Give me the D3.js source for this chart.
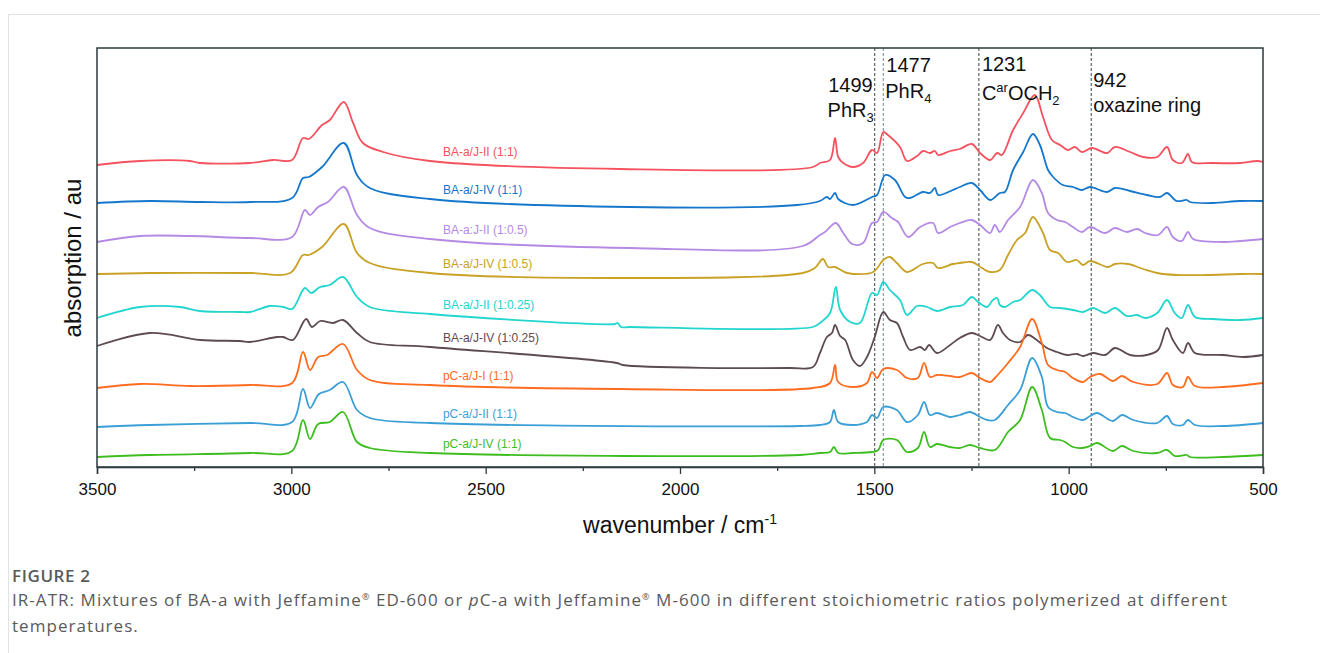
<!DOCTYPE html>
<html>
<head>
<meta charset="utf-8">
<script src="https://cdn.jsdelivr.net/npm/d3@7"></script>
<style>
  body { margin: 0; background: #fff; }
  svg { display: block; }
  .caption { font-family: "Open Sans", "Noto Sans", sans-serif; fill: #5a5a5a; }
</style>
</head>
<body>
<div id="chart"></div>
<script>
// spectra: [wavenumber cm-1, absorption au]
var redBA11 = [[3500,3.02],[3389,3.06],[3261,3.06],[3235,3.04],[3106,3.04],[3047,3.07],[2998,3.07],[2970,3.29],[2955,3.28],[2921,3.42],[2901,3.47],[2865,3.65],[2841,3.44],[2816,3.24],[2764,3.15],[2643,3.06],[2154,2.98],[1658,3.00],[1640,3.04],[1614,3.07],[1601,3.29],[1593,3.10],[1580,3.04],[1555,3.00],[1529,3.04],[1506,3.17],[1493,3.14],[1477,3.35],[1465,3.32],[1434,3.20],[1416,3.06],[1390,3.11],[1375,3.16],[1357,3.14],[1344,3.16],[1336,3.12],[1305,3.16],[1280,3.18],[1249,3.23],[1228,3.14],[1202,3.07],[1184,3.14],[1172,3.12],[1143,3.37],[1117,3.54],[1087,3.72],[1066,3.50],[1043,3.27],[1022,3.22],[1002,3.17],[984,3.20],[966,3.15],[940,3.19],[901,3.14],[881,3.20],[842,3.15],[808,3.10],[772,3.10],[747,3.20],[732,3.07],[709,3.04],[693,3.13],[683,3.05],[629,3.04],[559,3.04],[515,3.06],[500,3.05]];
var blueBA11 = [[3500,2.64],[3364,2.66],[3235,2.65],[3106,2.65],[2998,2.69],[2970,2.89],[2955,2.90],[2921,3.00],[2865,3.24],[2831,2.92],[2798,2.79],[2643,2.68],[2129,2.60],[1699,2.62],[1640,2.66],[1622,2.70],[1614,2.68],[1601,2.74],[1593,2.68],[1555,2.62],[1506,2.70],[1493,2.72],[1472,2.92],[1447,2.87],[1421,2.70],[1408,2.69],[1375,2.75],[1357,2.74],[1344,2.79],[1336,2.72],[1298,2.77],[1280,2.80],[1249,2.84],[1228,2.77],[1202,2.67],[1177,2.74],[1164,2.75],[1143,2.97],[1117,3.15],[1092,3.33],[1074,3.22],[1053,2.97],[1040,2.90],[1015,2.82],[989,2.80],[966,2.77],[945,2.80],[901,2.75],[881,2.79],[842,2.76],[799,2.72],[765,2.70],[747,2.74],[722,2.66],[696,2.67],[688,2.65],[629,2.64],[559,2.66],[500,2.66]];
var purpleBA105 = [[3500,2.25],[3389,2.31],[3261,2.31],[3106,2.29],[2998,2.30],[2965,2.57],[2952,2.52],[2931,2.60],[2906,2.65],[2865,2.80],[2831,2.52],[2798,2.39],[2643,2.28],[2129,2.19],[1684,2.21],[1640,2.32],[1627,2.35],[1599,2.44],[1580,2.34],[1557,2.23],[1529,2.24],[1506,2.44],[1493,2.45],[1477,2.55],[1455,2.49],[1439,2.45],[1413,2.30],[1382,2.40],[1349,2.44],[1336,2.34],[1305,2.40],[1280,2.44],[1249,2.47],[1228,2.42],[1202,2.34],[1190,2.42],[1177,2.35],[1156,2.47],[1125,2.60],[1092,2.87],[1069,2.74],[1053,2.54],[1030,2.47],[1009,2.45],[989,2.40],[966,2.35],[945,2.40],[906,2.34],[881,2.39],[850,2.35],[824,2.38],[803,2.34],[770,2.32],[747,2.40],[732,2.30],[709,2.26],[693,2.35],[680,2.28],[603,2.25],[559,2.26],[500,2.28]];
var goldBA105 = [[3500,1.93],[3364,1.94],[3106,1.94],[3003,1.94],[2970,2.12],[2955,2.12],[2921,2.20],[2865,2.43],[2831,2.14],[2798,2.04],[2643,1.94],[2129,1.89],[1684,1.94],[1653,1.99],[1632,2.08],[1619,2.00],[1601,2.00],[1570,1.94],[1503,1.95],[1477,2.07],[1460,2.10],[1442,2.04],[1416,1.95],[1375,2.03],[1349,2.04],[1336,1.99],[1298,2.03],[1280,2.04],[1249,2.05],[1223,1.99],[1202,1.95],[1177,1.97],[1156,2.12],[1133,2.27],[1112,2.34],[1092,2.50],[1066,2.34],[1048,2.17],[1027,2.14],[1004,2.05],[979,2.07],[963,2.02],[945,2.06],[899,2.00],[881,2.03],[847,2.03],[808,1.98],[772,1.94],[722,1.92],[644,1.92],[559,1.93],[500,1.93]];
var cyanBA1025 = [[3500,1.49],[3389,1.60],[3286,1.60],[3235,1.56],[3132,1.55],[3106,1.55],[3055,1.61],[3021,1.60],[2998,1.58],[2965,1.79],[2949,1.74],[2926,1.80],[2901,1.82],[2867,1.90],[2831,1.70],[2798,1.60],[2643,1.53],[2167,1.43],[2160,1.44],[2152,1.40],[2129,1.40],[1658,1.40],[1640,1.44],[1614,1.54],[1599,1.80],[1588,1.57],[1562,1.45],[1537,1.44],[1506,1.74],[1493,1.72],[1477,1.85],[1460,1.77],[1434,1.67],[1416,1.52],[1390,1.61],[1364,1.60],[1339,1.56],[1305,1.60],[1272,1.62],[1249,1.70],[1233,1.65],[1210,1.60],[1195,1.67],[1184,1.69],[1177,1.62],[1164,1.60],[1143,1.65],[1125,1.67],[1094,1.77],[1074,1.72],[1048,1.60],[1022,1.59],[989,1.57],[963,1.55],[937,1.59],[906,1.54],[881,1.59],[850,1.51],[824,1.52],[803,1.49],[772,1.54],[747,1.67],[727,1.54],[709,1.49],[693,1.62],[675,1.50],[629,1.48],[559,1.47],[500,1.49]];
var brownBA1025 = [[3500,1.21],[3364,1.34],[3235,1.27],[3132,1.26],[3106,1.25],[3037,1.30],[3021,1.30],[2996,1.27],[2962,1.48],[2947,1.40],[2926,1.46],[2893,1.44],[2867,1.47],[2831,1.34],[2798,1.25],[2643,1.20],[2162,1.04],[2147,1.02],[1717,0.99],[1658,1.00],[1640,1.14],[1622,1.30],[1609,1.34],[1601,1.42],[1588,1.31],[1575,1.27],[1555,1.07],[1537,1.01],[1519,1.10],[1499,1.30],[1477,1.55],[1460,1.47],[1442,1.44],[1426,1.30],[1408,1.17],[1382,1.20],[1370,1.17],[1359,1.22],[1339,1.14],[1305,1.22],[1280,1.29],[1249,1.34],[1228,1.31],[1202,1.27],[1182,1.42],[1169,1.34],[1151,1.27],[1125,1.25],[1105,1.32],[1082,1.27],[1056,1.19],[1030,1.15],[1004,1.12],[979,1.13],[963,1.11],[937,1.14],[906,1.12],[881,1.19],[842,1.12],[799,1.12],[770,1.17],[747,1.39],[732,1.27],[706,1.14],[693,1.24],[675,1.14],[603,1.12],[551,1.10],[500,1.12]];
var orangePC11 = [[3500,0.79],[3389,0.83],[3261,0.81],[3106,0.82],[2998,0.84],[2970,1.15],[2952,0.97],[2931,1.10],[2908,1.12],[2867,1.23],[2831,0.97],[2798,0.87],[2643,0.82],[2154,0.78],[1658,0.79],[1614,0.84],[1601,1.02],[1593,0.85],[1555,0.80],[1519,0.84],[1506,0.95],[1493,0.89],[1477,0.98],[1442,0.97],[1416,0.89],[1388,0.89],[1372,1.04],[1357,0.90],[1339,0.92],[1305,0.91],[1280,0.90],[1249,0.94],[1228,0.89],[1202,0.85],[1190,0.89],[1156,1.04],[1125,1.20],[1094,1.48],[1069,1.24],[1053,1.02],[1030,0.97],[1009,0.95],[989,0.89],[963,0.85],[945,0.90],[919,0.93],[886,0.86],[863,0.91],[834,0.85],[772,0.83],[747,0.94],[732,0.82],[706,0.80],[693,0.90],[675,0.81],[603,0.80],[500,0.84]];
var lightbluePC11 = [[3500,0.40],[3364,0.42],[3106,0.44],[2998,0.45],[2970,0.78],[2952,0.59],[2929,0.73],[2901,0.77],[2867,0.85],[2831,0.57],[2798,0.49],[2643,0.44],[1691,0.41],[1640,0.42],[1614,0.45],[1604,0.57],[1593,0.45],[1555,0.42],[1519,0.45],[1506,0.52],[1493,0.49],[1477,0.60],[1442,0.57],[1416,0.45],[1388,0.52],[1372,0.65],[1357,0.52],[1339,0.54],[1305,0.50],[1280,0.52],[1254,0.55],[1228,0.50],[1210,0.47],[1190,0.47],[1156,0.62],[1125,0.77],[1094,1.09],[1069,0.90],[1053,0.60],[1030,0.55],[1009,0.54],[989,0.50],[963,0.47],[945,0.51],[927,0.54],[886,0.46],[863,0.52],[834,0.47],[772,0.44],[747,0.51],[732,0.43],[706,0.42],[693,0.47],[675,0.42],[603,0.41],[500,0.44]];
var greenPC11 = [[3500,0.10],[3364,0.12],[3106,0.14],[2998,0.16],[2970,0.47],[2952,0.28],[2931,0.43],[2901,0.45],[2867,0.55],[2831,0.25],[2798,0.19],[2643,0.14],[1691,0.12],[1640,0.14],[1614,0.15],[1604,0.20],[1593,0.14],[1555,0.14],[1506,0.15],[1490,0.17],[1477,0.27],[1442,0.27],[1416,0.15],[1388,0.19],[1372,0.35],[1357,0.20],[1339,0.23],[1305,0.20],[1280,0.19],[1254,0.22],[1228,0.19],[1190,0.17],[1156,0.35],[1125,0.47],[1094,0.80],[1069,0.57],[1048,0.29],[1022,0.27],[1009,0.25],[989,0.20],[966,0.19],[945,0.21],[927,0.24],[886,0.16],[863,0.21],[834,0.16],[772,0.14],[747,0.17],[727,0.11],[696,0.12],[688,0.10],[603,0.10],[500,0.12]];

var seriesNames = ["BA-a/J-II (1:1)", "BA-a/J-IV (1:1)", "BA-a:J-II (1:0.5)", "BA-a/J-IV (1:0.5)", "BA-a/J-II (1:0.25)", "BA-a/J-IV (1:0.25)", "pC-a/J-I (1:1)", "pC-a/J-II (1:1)", "pC-a/J-IV (1:1)"];
var seriesData = [redBA11, blueBA11, purpleBA105, goldBA105, cyanBA1025, brownBA1025, orangePC11, lightbluePC11, greenPC11];
var seriesColors = ["#f4525e", "#1577cc", "#b48ae4", "#c9a125", "#22d5cf", "#5d4b53", "#ff6b1f", "#3a9fd6", "#3dbd1f"];

// marked bands: wavenumber, number label
var bandPos = [1499, 1477, 1231, 942];
var bandNum = ["1499", "1477", "1231", "942"];

var xTicks = [3500, 3000, 2500, 2000, 1500, 1000, 500];
var xMinorTicks = [3250, 2750, 2250, 1750, 1250, 750];

var W = 1320, H = 653;
var margin = {left: 97, right: 57, top: 48, bottom: 186};

var svg = d3.select("#chart").append("svg").attr("width", W).attr("height", H)
    .style("font-family", "'Liberation Sans', Arial, sans-serif");

// card border
svg.append("line").attr("x1", 8).attr("x2", W).attr("y1", 14.5).attr("y2", 14.5).attr("stroke", "#e2e2e2");
svg.append("line").attr("x1", 8.5).attr("x2", 8.5).attr("y1", 14).attr("y2", H).attr("stroke", "#e2e2e2");

var x = d3.scaleLinear().domain([3500, 500]).range([margin.left, W - margin.right]);
var y = d3.scaleLinear().domain([0, 4.19]).range([H - margin.bottom, margin.top]);

// band markers
svg.selectAll(".band").data(bandPos).enter().append("line")
    .attr("x1", d => x(d)).attr("x2", d => x(d))
    .attr("y1", y(4.19)).attr("y2", y(0))
    .attr("stroke", (d, i) => i == 1 ? "#6f8a8a" : "#3a4444")
    .attr("stroke-width", 1).attr("stroke-dasharray", "3,2");

// spectra
var line = d3.line().x(d => x(d[0])).y(d => y(d[1])).curve(d3.curveCatmullRom.alpha(0.5));
svg.selectAll(".spec").data(seriesData).enter().append("path")
    .attr("d", line).attr("fill", "none")
    .attr("stroke", (d, i) => seriesColors[i]).attr("stroke-width", 1.8)
    .attr("stroke-linejoin", "round");

// series labels sit just above each curve
svg.selectAll(".lab").data(seriesData).enter().append("text")
    .attr("x", x(2610))
    .attr("y", d => y(d.find(p => p[0] == 2643)[1]) - 5)
    .attr("fill", (d, i) => seriesColors[i])
    .style("font-size", "12px")
    .text((d, i) => seriesNames[i]);

// frame
svg.append("rect").attr("x", x(3500)).attr("y", y(4.19))
    .attr("width", x(500) - x(3500)).attr("height", y(0) - y(4.19))
    .attr("fill", "none").attr("stroke", "#2d3a3d").attr("stroke-width", 1.5);

// x axis
var xAxis = svg.append("g").attr("transform", "translate(0," + y(0) + ")")
    .call(d3.axisBottom(x).tickValues(xTicks).tickSize(7).tickPadding(9).tickFormat(d3.format("d")));
xAxis.select(".domain").attr("stroke", "#2d3a3d").attr("stroke-width", 1.5);
xAxis.selectAll(".tick line").attr("stroke", "#2d3a3d").attr("stroke-width", 1.3);
xAxis.selectAll("text").style("font-size", "17px").style("font-family", "'Liberation Sans', Arial, sans-serif").attr("fill", "#111");

var xMinor = svg.append("g").attr("transform", "translate(0," + y(0) + ")")
    .call(d3.axisBottom(x).tickValues(xMinorTicks).tickSize(4).tickFormat(""));
xMinor.select(".domain").remove();
xMinor.selectAll(".tick line").attr("stroke", "#2d3a3d").attr("stroke-width", 1.3);

// axis titles
var xt = svg.append("text").attr("x", x(2000)).attr("y", 533).attr("text-anchor", "middle")
    .style("font-size", "23px").attr("fill", "#111");
xt.append("tspan").text("wavenumber / cm");
xt.append("tspan").attr("dy", -9).style("font-size", "14px").text("-1");

svg.append("text").attr("transform", "translate(81," + y(2.09) + ") rotate(-90)")
    .attr("text-anchor", "middle").style("font-size", "24px").attr("fill", "#111")
    .text("absorption / au");

// band annotations
var ann = svg.append("g").style("font-size", "20px").attr("fill", "#111");
ann.append("text").attr("x", x(1499) - 2).attr("y", 92).attr("text-anchor", "end").text(bandNum[0]);
var t3 = ann.append("text").attr("x", x(1499) - 1).attr("y", 117).attr("text-anchor", "end");
t3.append("tspan").text("PhR");
t3.append("tspan").attr("dy", 5).style("font-size", "13px").text("3");

ann.append("text").attr("x", x(1477) + 3).attr("y", 72).text(bandNum[1]);
var t4 = ann.append("text").attr("x", x(1477) + 2).attr("y", 98);
t4.append("tspan").text("PhR");
t4.append("tspan").attr("dy", 5).style("font-size", "13px").text("4");

ann.append("text").attr("x", x(1231) + 3).attr("y", 71).text(bandNum[2]);
var tc = ann.append("text").attr("x", x(1231) + 3).attr("y", 100);
tc.append("tspan").text("C");
tc.append("tspan").attr("dy", -8).style("font-size", "13px").text("ar");
tc.append("tspan").attr("dy", 8).text("OCH");
tc.append("tspan").attr("dy", 5).style("font-size", "13px").text("2");

ann.append("text").attr("x", x(942) + 2).attr("y", 87).text(bandNum[3]);
ann.append("text").attr("x", x(942) + 2).attr("y", 112).text("oxazine ring");

// caption
svg.append("text").attr("class", "caption").attr("x", 12).attr("y", 582)
    .style("font-size", "17px").style("font-weight", "600").style("letter-spacing", "0.6px")
    .attr("fill", "#666").text("FIGURE 2");
var c1 = svg.append("text").attr("class", "caption").attr("x", 12).attr("y", 606)
    .style("font-size", "17px").style("letter-spacing", "1.05px");
c1.append("tspan").text("IR-ATR: Mixtures of BA-a with Jeffamine");
c1.append("tspan").attr("dy", -6).style("font-size", "9px").text("®");
c1.append("tspan").attr("dy", 6).text(" ED-600 or ");
c1.append("tspan").style("font-style", "italic").text("p");
c1.append("tspan").text("C-a with Jeffamine");
c1.append("tspan").attr("dy", -6).style("font-size", "9px").text("®");
c1.append("tspan").attr("dy", 6).text(" M-600 in different stoichiometric ratios polymerized at different");
svg.append("text").attr("class", "caption").attr("x", 12).attr("y", 632)
    .style("font-size", "17px").style("letter-spacing", "1.05px").text("temperatures.");
</script>
</body>
</html>
